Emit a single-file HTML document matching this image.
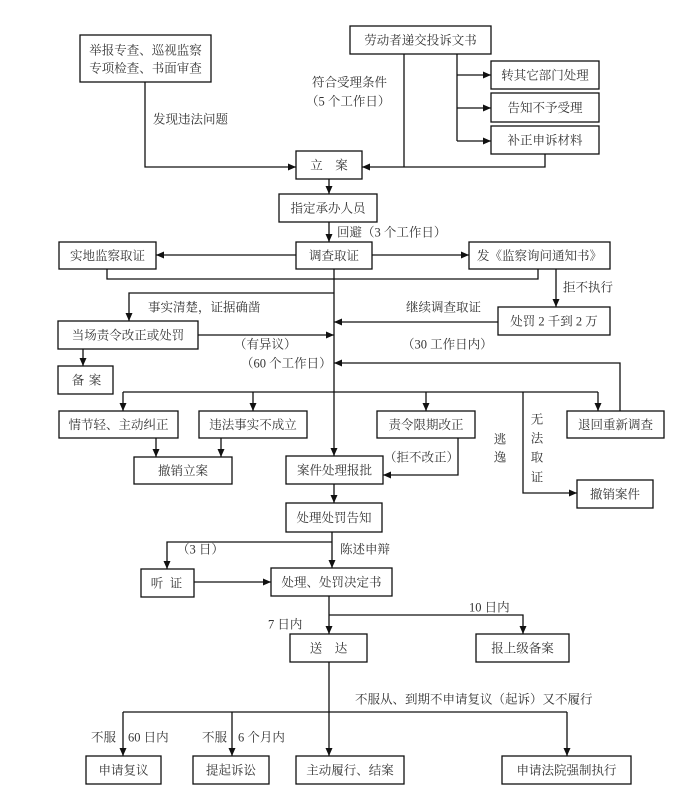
<!DOCTYPE html>
<html><head><meta charset="utf-8">
<style>
html,body{margin:0;padding:0;background:#fff;}
svg{display:block;}
text{font-family:"Liberation Serif","Noto Serif CJK SC",serif;font-size:12.5px;fill:#333;}
</style></head>
<body>
<svg width="698" height="812" viewBox="0 0 698 812" xmlns="http://www.w3.org/2000/svg">
<defs>
<marker id="a" markerUnits="userSpaceOnUse" markerWidth="8" markerHeight="8" refX="8" refY="4" orient="auto">
<path d="M0,0.5 L8,4 L0,7.5 z" fill="#111"/>
</marker>
</defs>
<g stroke="#111" stroke-width="1.3" fill="none">
<polyline points="145,82 145,167 296,167" marker-end="url(#a)"/>
<line x1="404" y1="54" x2="404" y2="167"/>
<polyline points="545,154 545,167 362,167" marker-end="url(#a)"/>
<line x1="457" y1="54" x2="457" y2="141"/>
<line x1="457" y1="75" x2="491" y2="75" marker-end="url(#a)"/>
<line x1="457" y1="108" x2="491" y2="108" marker-end="url(#a)"/>
<line x1="457" y1="141" x2="491" y2="141" marker-end="url(#a)"/>
<line x1="329" y1="179" x2="329" y2="194" marker-end="url(#a)"/>
<line x1="329" y1="222" x2="329" y2="242" marker-end="url(#a)"/>
<line x1="296" y1="255" x2="156" y2="255" marker-end="url(#a)"/>
<line x1="372" y1="255" x2="469" y2="255" marker-end="url(#a)"/>
<polyline points="107,269 107,279 538,279 538,269"/>
<line x1="334" y1="269" x2="334" y2="456" marker-end="url(#a)"/>
<polyline points="334,293 129,293 129,321" marker-end="url(#a)"/>
<line x1="198" y1="335" x2="334" y2="335" marker-end="url(#a)"/>
<line x1="556" y1="269" x2="556" y2="307" marker-end="url(#a)"/>
<line x1="498" y1="322" x2="334" y2="322" marker-end="url(#a)"/>
<polyline points="620,411 620,363 334,363" marker-end="url(#a)"/>
<line x1="83" y1="349" x2="83" y2="366" marker-end="url(#a)"/>
<line x1="123" y1="392" x2="598" y2="392"/>
<line x1="123" y1="392" x2="123" y2="411" marker-end="url(#a)"/>
<line x1="253" y1="392" x2="253" y2="411" marker-end="url(#a)"/>
<line x1="426" y1="392" x2="426" y2="411" marker-end="url(#a)"/>
<line x1="598" y1="392" x2="598" y2="411" marker-end="url(#a)"/>
<polyline points="523,392 523,493 577,493" marker-end="url(#a)"/>
<line x1="156" y1="438" x2="156" y2="457" marker-end="url(#a)"/>
<line x1="221" y1="438" x2="221" y2="457" marker-end="url(#a)"/>
<polyline points="458,438 458,475 383,475" marker-end="url(#a)"/>
<line x1="334" y1="484" x2="334" y2="503" marker-end="url(#a)"/>
<line x1="332" y1="532" x2="332" y2="568" marker-end="url(#a)"/>
<polyline points="332,542 167,542 167,569" marker-end="url(#a)"/>
<line x1="194" y1="582" x2="271" y2="582" marker-end="url(#a)"/>
<line x1="329" y1="596" x2="329" y2="634" marker-end="url(#a)"/>
<polyline points="329,615 523,615 523,634" marker-end="url(#a)"/>
<line x1="329" y1="662" x2="329" y2="756" marker-end="url(#a)"/>
<line x1="123" y1="712" x2="567" y2="712"/>
<line x1="567" y1="712" x2="567" y2="756" marker-end="url(#a)"/>
<line x1="123" y1="712" x2="123" y2="756" marker-end="url(#a)"/>
<line x1="232" y1="712" x2="232" y2="756" marker-end="url(#a)"/>
</g>
<g stroke="#111" stroke-width="1.3" fill="#fff">
<rect x="80" y="35" width="131" height="47"/>
<rect x="350" y="26" width="141" height="28"/>
<rect x="491" y="61" width="108" height="28"/>
<rect x="491" y="93" width="108" height="29"/>
<rect x="491" y="126" width="108" height="28"/>
<rect x="296" y="151" width="66" height="28"/>
<rect x="279" y="194" width="98" height="28"/>
<rect x="296" y="242" width="76" height="27"/>
<rect x="59" y="242" width="97" height="27"/>
<rect x="469" y="242" width="141" height="27"/>
<rect x="498" y="307" width="112" height="28"/>
<rect x="58" y="321" width="140" height="28"/>
<rect x="58" y="366" width="55" height="28"/>
<rect x="59" y="411" width="119" height="27"/>
<rect x="199" y="411" width="108" height="27"/>
<rect x="377" y="411" width="98" height="27"/>
<rect x="567" y="411" width="97" height="27"/>
<rect x="134" y="457" width="98" height="27"/>
<rect x="286" y="456" width="97" height="28"/>
<rect x="577" y="480" width="76" height="28"/>
<rect x="286" y="503" width="96" height="29"/>
<rect x="141" y="569" width="53" height="28"/>
<rect x="271" y="568" width="121" height="28"/>
<rect x="290" y="634" width="77" height="28"/>
<rect x="476" y="634" width="93" height="28"/>
<rect x="86" y="756" width="75" height="28"/>
<rect x="193" y="756" width="76" height="28"/>
<rect x="296" y="756" width="108" height="28"/>
<rect x="502" y="756" width="129" height="28"/>
</g>
<g text-anchor="middle">
<text x="145.5" y="54.5">举报专查、巡视监察</text>
<text x="145.5" y="72.5">专项检查、书面审查</text>
<text x="420.5" y="44.5">劳动者递交投诉文书</text>
<text x="545" y="79.5">转其它部门处理</text>
<text x="545" y="112">告知不予受理</text>
<text x="545" y="144.5">补正申诉材料</text>
<text x="329" y="169.5">立　案</text>
<text x="328" y="212.5">指定承办人员</text>
<text x="334" y="260">调查取证</text>
<text x="107.5" y="260">实地监察取证</text>
<text x="539.5" y="260">发《监察询问通知书》</text>
<text x="554" y="325.5">处罚 2 千到 2 万</text>
<text x="128" y="339.5">当场责令改正或处罚</text>
<text x="78" y="384.5">备</text>
<text x="95" y="384.5">案</text>
<text x="157" y="587.5">听</text>
<text x="176" y="587.5">证</text>
<text x="118.5" y="429">情节轻、主动纠正</text>
<text x="253" y="429">违法事实不成立</text>
<text x="426" y="429">责令限期改正</text>
<text x="615.5" y="429">退回重新调查</text>
<text x="183" y="475">撤销立案</text>
<text x="334.5" y="474.5">案件处理报批</text>
<text x="615" y="498.5">撤销案件</text>
<text x="334" y="522">处理处罚告知</text>
<text x="331.5" y="586.5">处理、处罚决定书</text>
<text x="328.5" y="652.5">送　达</text>
<text x="522.5" y="652.5">报上级备案</text>
<text x="123.5" y="774.5">申请复议</text>
<text x="231" y="774.5">提起诉讼</text>
<text x="350" y="774.5">主动履行、结案</text>
<text x="566.5" y="774.5">申请法院强制执行</text>
<text x="500" y="443.5">逃</text>
<text x="500" y="461.5">逸</text>
<text x="537" y="423.5">无</text>
<text x="537" y="442.5">法</text>
<text x="537" y="461.5">取</text>
<text x="537" y="481.5">证</text>
</g>
<g>
<text x="153" y="123.5">发现违法问题</text>
<text x="312" y="86.5">符合受理条件</text>
<text x="306" y="105.5">（5 个工作日）</text>
<text x="337" y="236.5">回避（3 个工作日）</text>
<text x="148" y="311.5">事实清楚，证据确凿</text>
<text x="234" y="348.5">（有异议）</text>
<text x="241" y="367.5">（60 个工作日）</text>
<text x="406" y="311.5">继续调查取证</text>
<text x="402" y="348.5">（30 工作日内）</text>
<text x="563" y="291.5">拒不执行</text>
<text x="384" y="461.5">（拒不改正）</text>
<text x="177" y="553.5">（3 日）</text>
<text x="340" y="553.5">陈述申辩</text>
<text x="268" y="628.5">7 日内</text>
<text x="469" y="611.5">10 日内</text>
<text x="355" y="703.5">不服从、到期不申请复议（起诉）又不履行</text>
<text x="91" y="741.5">不服</text>
<text x="128" y="741.5">60 日内</text>
<text x="202" y="741.5">不服</text>
<text x="238" y="741.5">6 个月内</text>
</g>
</svg>
</body></html>
